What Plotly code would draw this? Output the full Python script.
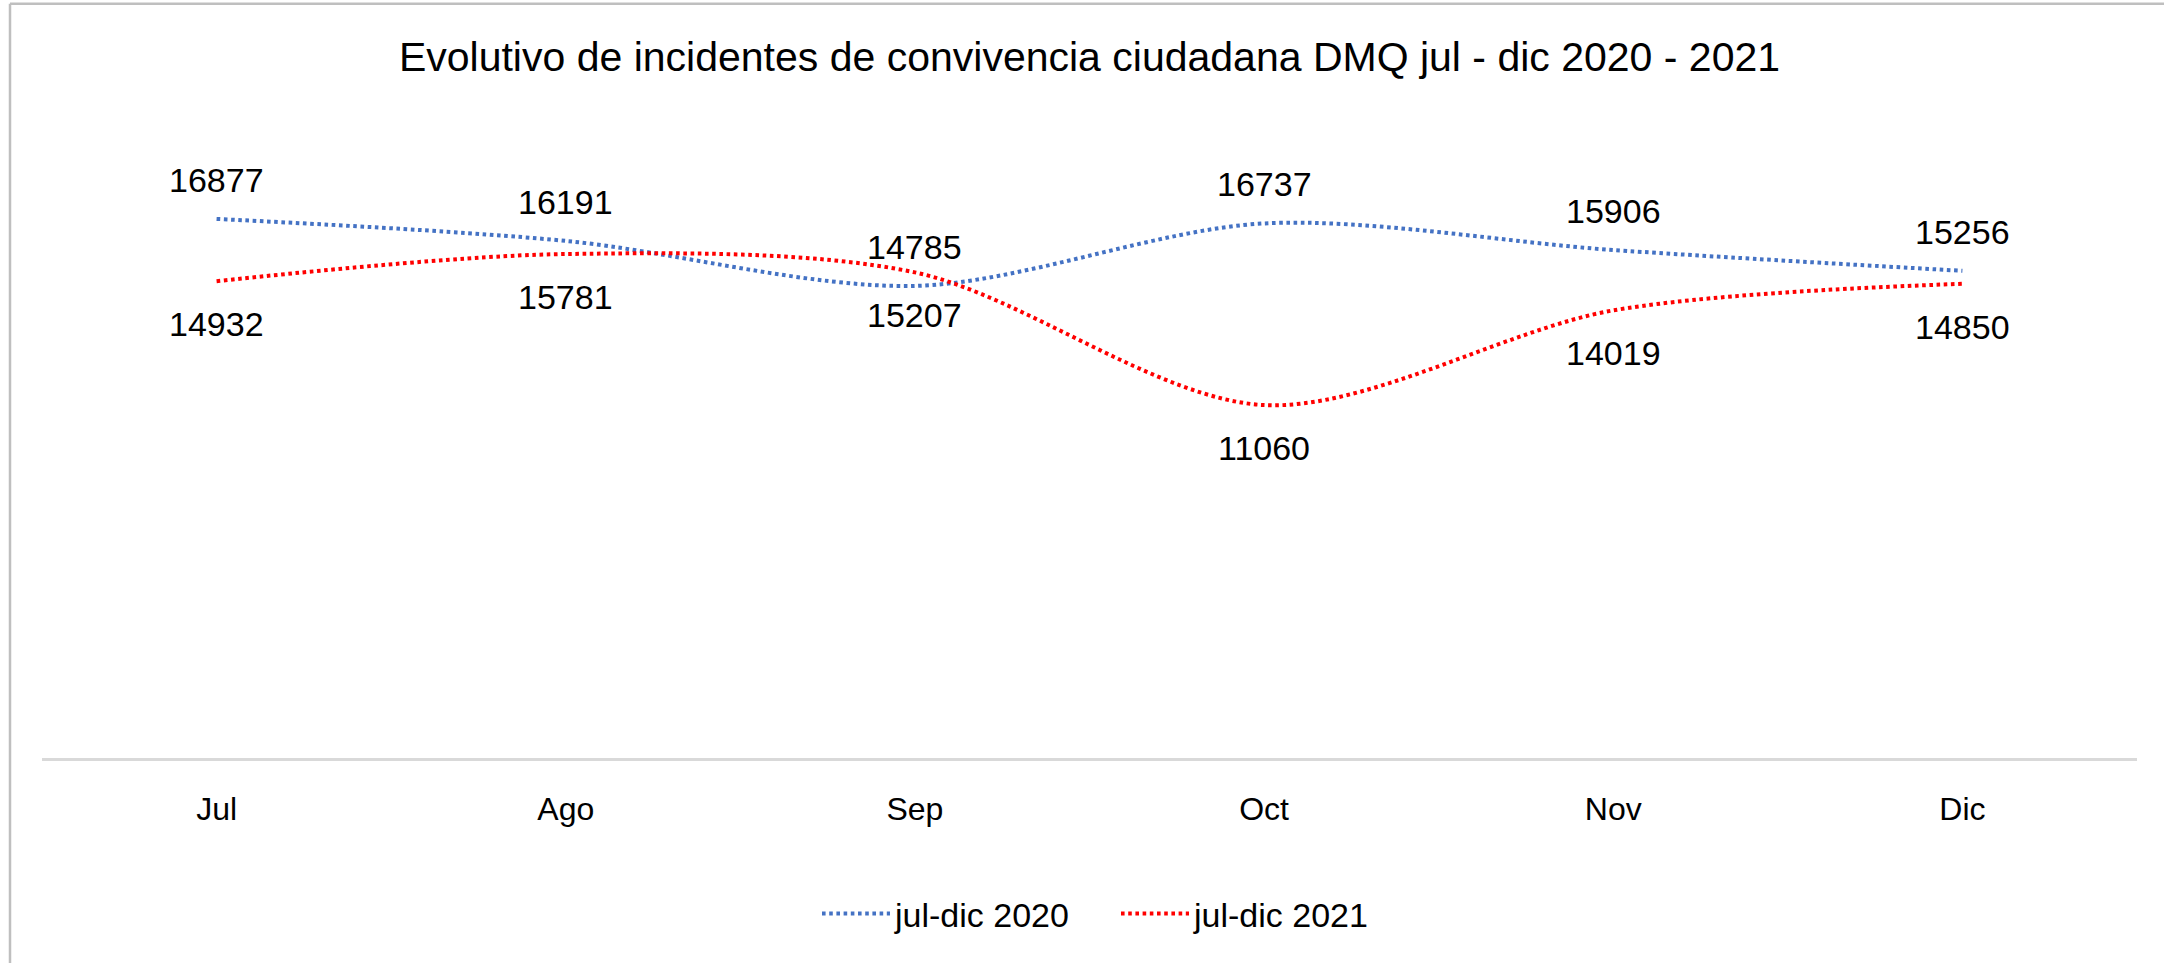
import plotly.graph_objects as go

months = ["Jul", "Ago", "Sep", "Oct", "Nov", "Dic"]
vals_2020 = [16877, 16191, 14785, 16737, 15906, 15256]
vals_2021 = [14932, 15781, 15207, 11060, 14019, 14850]
series_names = ["jul-dic 2020", "jul-dic 2021"]
title_text = "Evolutivo de incidentes de convivencia ciudadana DMQ jul - dic 2020 - 2021"

W, H = 2164, 963
ML, MR, MT, MB = 42, 27, 182.5, 204
PW = W - ML - MR
PH = H - MT - MB
FONT = "Liberation Sans, Arial, sans-serif"

fig = go.Figure()
fig.add_trace(go.Scatter(x=months, y=vals_2020, mode="lines", name=series_names[0],
                         line=dict(color="#4472C4", width=4, dash="3.6px,3.6px", shape="spline", smoothing=0.9)))
fig.add_trace(go.Scatter(x=months, y=vals_2021, mode="lines", name=series_names[1],
                         line=dict(color="#FF0000", width=4, dash="3.6px,3.6px", shape="spline", smoothing=0.9)))

annotations = []
for m, v in zip(months, vals_2020):
    annotations.append(dict(x=m, y=v, xref="x", yref="y", text=str(v), showarrow=False,
                            yshift=39, font=dict(size=34, color="#000000", family=FONT)))
for m, v in zip(months, vals_2021):
    annotations.append(dict(x=m, y=v, xref="x", yref="y", text=str(v), showarrow=False,
                            yshift=-43, font=dict(size=34, color="#000000", family=FONT)))

def px_x(p):
    return (p - ML) / PW

def px_y(p):
    return (H - MB - p) / PH

shapes = [
    dict(type="line", xref="paper", yref="paper", x0=px_x(10), x1=px_x(10), y0=px_y(3), y1=px_y(980),
         line=dict(color="#BFBFBF", width=2.5)),
    dict(type="line", xref="paper", yref="paper", x0=px_x(10), x1=px_x(2180), y0=px_y(3), y1=px_y(3),
         line=dict(color="#BFBFBF", width=2.5)),
]

fig.update_layout(
    width=W, height=H,
    margin=dict(l=ML, r=MR, t=MT, b=MB, pad=0),
    paper_bgcolor="white", plot_bgcolor="white",
    title=dict(text=title_text, x=0.5, xref="paper", xanchor="center",
               y=1 - 57 / H, yref="container", yanchor="middle",
               font=dict(size=41, color="#000000", family=FONT)),
    xaxis=dict(showgrid=False, zeroline=False, showline=False,
               ticks="outside", ticklen=22, tickcolor="rgba(0,0,0,0)",
               range=[-0.5, 5.5],
               tickfont=dict(size=32, color="#000000", family=FONT)),
    yaxis=dict(range=[0, 18000], showgrid=False, showticklabels=False, zeroline=True,
               zerolinecolor="#D9D9D9", zerolinewidth=2.5, showline=False),
    showlegend=True,
    legend=dict(orientation="h", x=px_x(1116), xanchor="center", xref="paper",
                y=px_y(914), yanchor="middle",
                font=dict(size=34, color="#000000", family=FONT),
                itemwidth=68, entrywidth=216, bgcolor="rgba(0,0,0,0)"),
    annotations=annotations,
    shapes=shapes,
)

fig.write_html("out.html", config={"displayModeBar": False},
               post_script="document.body.style.margin='0px';document.body.style.overflow='hidden';")
